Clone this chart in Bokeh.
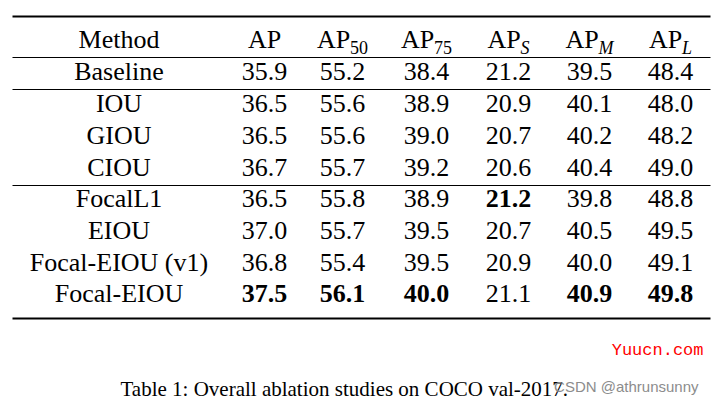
from bokeh.plotting import figure
from bokeh.models import Range1d, ColumnDataSource
from bokeh.core.properties import value
from bokeh.embed import file_html
from bokeh.resources import INLINE

# ---- data ----
methods = ["Baseline", "IOU", "GIOU", "CIOU", "FocalL1", "EIOU", "Focal-EIOU (v1)", "Focal-EIOU"]
header_main = ["AP", "AP", "AP", "AP", "AP", "AP"]
header_sub = ["", "50", "75", "S", "M", "L"]
header_sub_italic = [False, False, False, True, True, True]
AP = [35.9, 36.5, 36.5, 36.7, 36.5, 37.0, 36.8, 37.5]
AP50 = [55.2, 55.6, 55.6, 55.7, 55.8, 55.7, 55.4, 56.1]
AP75 = [38.4, 38.9, 39.0, 39.2, 38.9, 39.5, 39.5, 40.0]
APS = [21.2, 20.9, 20.7, 20.6, 21.2, 20.7, 20.9, 21.1]
APM = [39.5, 40.1, 40.2, 40.4, 39.8, 40.5, 40.0, 40.9]
APL = [48.4, 48.0, 48.2, 49.0, 48.8, 49.5, 49.1, 49.8]
# bold flags (row index, column index)
bold_cells = [(4, 3), (7, 0), (7, 1), (7, 2), (7, 4), (7, 5)]
caption = "Table 1: Overall ablation studies on COCO val-2017."
watermark1 = "Yuucn.com"
watermark2 = "CSDN @athrunsunny"

# ---- layout (data units == screen pixels) ----
W, H = 715, 404
p = figure(width=W, height=H, output_backend="svg", toolbar_location=None,
           x_range=Range1d(0, W), y_range=Range1d(H, 0),
           min_border=0, outline_line_color=None)
p.axis.visible = False
p.grid.visible = False
p.background_fill_color = "white"
p.border_fill_color = "white"

FONT = "Liberation Serif"
FS = 26
SUBFS = 18
method_x = 118.5
col_x = [264, 342, 426, 508, 589, 670]
header_y = 48 - 8.6          # cap-centre of header row
row_y0 = 80 - 8.6            # cap-centre of first body row
row_dy = 31.72
x_left, x_right = 12, 710

# rules
rules_y = [16, 57, 89, 185, 318]
rules_w = [2.2, 1.2, 1.2, 1.2, 2.2]
for y, w in zip(rules_y, rules_w):
    p.segment(x0=[x_left], y0=[y], x1=[x_right], y1=[y], line_color="black", line_width=w)

# header
p.text(x=[method_x], y=[header_y], text=["Method"], text_font=value(FONT),
       text_font_size=f"{FS}px", text_align="center", text_baseline="middle", text_color="black")
ap_w = (0.722 + 0.556) * FS
sub_widths = {"": 0, "50": 1.0 * SUBFS, "75": 1.0 * SUBFS, "S": 0.5 * SUBFS, "M": 0.833 * SUBFS, "L": 0.556 * SUBFS}
for cx, m, s, it in zip(col_x, header_main, header_sub, header_sub_italic):
    total = ap_w + sub_widths[s]
    left = cx - total / 2
    p.text(x=[left], y=[header_y], text=[m], text_font=value(FONT), text_font_size=f"{FS}px",
           text_align="left", text_baseline="middle", text_color="black")
    if s:
        p.text(x=[left + ap_w], y=[header_y + 8.6 + 5 - 6], text=[s], text_font=value(FONT),
               text_font_size=f"{SUBFS}px", text_font_style="italic" if it else "normal",
               text_align="left", text_baseline="middle", text_color="black")

# body
row_ys = [row_y0 + i * row_dy for i in range(len(methods))]
p.text(x=[method_x] * len(methods), y=row_ys, text=methods, text_font=value(FONT),
       text_font_size=f"{FS}px", text_align="center", text_baseline="middle", text_color="black")
cols = [AP, AP50, AP75, APS, APM, APL]
for j, (cx, vals) in enumerate(zip(col_x, cols)):
    xs, ys, ts, styles = [], [], [], []
    for i, v in enumerate(vals):
        xs.append(cx)
        ys.append(row_ys[i])
        ts.append(f"{v:.1f}")
        styles.append("bold" if (i, j) in bold_cells else "normal")
    src = ColumnDataSource(dict(x=xs, y=ys, t=ts, s=styles))
    p.text(x="x", y="y", text="t", source=src, text_font=value(FONT), text_font_size=f"{FS}px",
           text_font_style="s", text_align="center", text_baseline="middle", text_color="black")

# caption & watermarks
p.text(x=[120], y=[388], text=[caption], text_font=value(FONT), text_font_size="21px",
       text_align="left", text_baseline="middle", text_color="black")
p.text(x=[703], y=[350], text=[watermark1], text_font=value("Liberation Mono"), text_font_size="17px",
       text_align="right", text_baseline="middle", text_color="#ff0000")
p.text(x=[698], y=[386], text=[watermark2], text_font=value("Liberation Sans"), text_font_size="15px",
       text_align="right", text_baseline="middle", text_color="#8c8c8c")

open("out.html", "w").write(file_html(p, INLINE))
